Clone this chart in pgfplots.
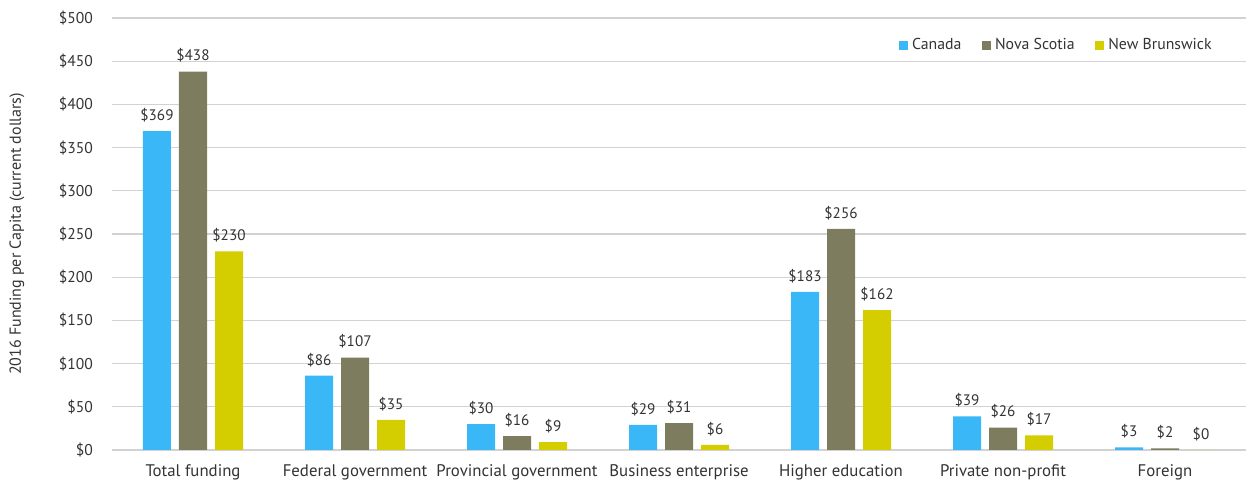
\documentclass[border=0pt]{standalone}
\usepackage{pgfplots}
\pgfplotsset{compat=1.18}
\usepackage{fontspec}
\setmainfont{PT Sans}
\definecolor{cCan}{HTML}{3AB7F7}
\definecolor{cNS}{HTML}{7E7C5E}
\definecolor{cNB}{HTML}{D4CD00}
\definecolor{txt}{HTML}{333333}
\begin{document}
\begin{tikzpicture}
\begin{axis}[
  scale only axis,
  width=567pt, height=216pt,
  xmin=-0.5, xmax=6.5,
  ymin=0, ymax=500,
  ytick={0,50,...,500},
  /pgf/number format/assume math mode=true,
  yticklabel={\$\pgfmathprintnumber{\tick}},
  xtick=data,
  xticklabels={Total funding,Federal government,Provincial government,Business enterprise,Higher education,Private non-profit,Foreign},
  yticklabel style={font=\fontsize{7.8}{9}\selectfont, text=txt, xshift=-6pt},
  xticklabel style={font=\fontsize{8.4}{10}\selectfont, text=txt, yshift=-4pt},
  major tick length=0pt,
  axis line style={draw=none},
  ymajorgrids,
  grid style={gray!35, line width=0.6pt},
  ylabel={2016 Funding per Capita (current dollars)},
  ylabel style={font=\fontsize{8}{9}\selectfont, text=txt, at={(axis description cs:-0.0838,0.5)}, anchor=center},
  ybar=4pt,
  bar width=14pt,
  nodes near coords={\$\pgfmathprintnumber{\pgfplotspointmeta}},
  nodes near coords style={font=\fontsize{7.6}{9}\selectfont, text=txt, yshift=1pt},
  legend style={at={(1,1)}, anchor=north east, xshift=-12pt, yshift=-6pt, draw=none, fill=none,
    font=\fontsize{7.9}{9}\selectfont, text=txt, legend columns=-1,
    /tikz/every even column/.append style={column sep=8pt}},
  legend image code/.code={\fill[#1] (0pt,-2.4pt) rectangle (4.8pt,2.4pt);},
]
\addplot[fill=cCan, draw=none] coordinates {(0,369) (1,86) (2,30) (3,29) (4,183) (5,39) (6,3)};
\addplot[fill=cNS, draw=none] coordinates {(0,438) (1,107) (2,16) (3,31) (4,256) (5,26) (6,2)};
\addplot[fill=cNB, draw=none] coordinates {(0,230) (1,35) (2,9) (3,6) (4,162) (5,17) (6,0)};
\legend{Canada,Nova Scotia,New Brunswick}
\end{axis}
\pgfresetboundingbox
\path ([xshift=-56pt,yshift=-17.5pt]current axis.south west) rectangle ([yshift=9pt]current axis.north east);
\end{tikzpicture}
\end{document}
